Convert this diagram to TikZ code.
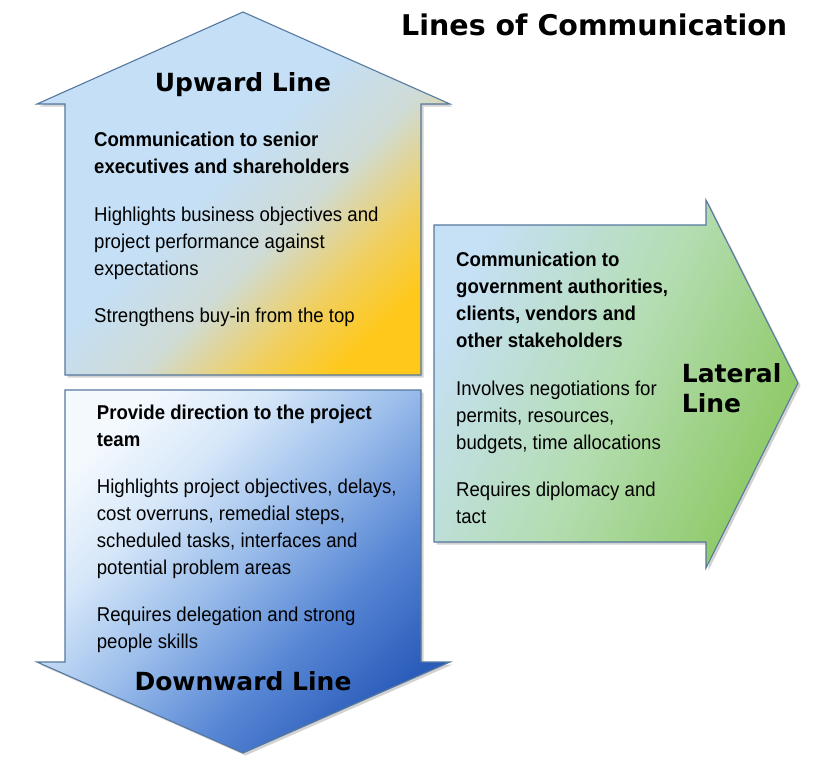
\documentclass[tikz,border=0pt]{standalone}
\usepackage{fontspec}
\setmainfont{Liberation Sans}
\newfontfamily\bodyfont[FakeStretch=0.93]{Liberation Sans}
\newfontfamily\headfont{DejaVu Sans}
\usetikzlibrary{shadows}
\definecolor{upTop}{HTML}{C4DFF6}
\definecolor{upMid}{HTML}{CFDBD6}
\definecolor{upWarm}{HTML}{F0CF5E}
\definecolor{upBot}{HTML}{FFC81A}
\definecolor{dnTop}{HTML}{F4F9FE}
\definecolor{dnLight}{HTML}{D6E7F9}
\definecolor{dnMid}{HTML}{9DBFEB}
\definecolor{dnDeep}{HTML}{5786D4}
\definecolor{dnBot}{HTML}{2A5CBA}
\definecolor{ltTop}{HTML}{C6E0F6}
\definecolor{ltMid}{HTML}{B4DDB2}
\definecolor{ltBot}{HTML}{8CC862}
\definecolor{edgeBlue}{HTML}{56789E}
\pgfdeclareverticalshading{upfade}{100bp}{color(0bp)=(upBot);
  color(25bp)=(upBot); color(33bp)=(upWarm); color(43bp)=(upMid);
  color(54bp)=(upTop); color(100bp)=(upTop)}
\pgfdeclareverticalshading{dnfade}{100bp}{color(0bp)=(dnBot);
  color(25bp)=(dnBot); color(38bp)=(dnDeep); color(52bp)=(dnMid);
  color(64bp)=(dnLight); color(75bp)=(dnTop); color(100bp)=(dnTop)}
\pgfdeclareverticalshading{ltfade}{100bp}{color(0bp)=(ltBot);
  color(25bp)=(ltBot); color(50bp)=(ltMid); color(75bp)=(ltTop);
  color(100bp)=(ltTop)}
\tikzset{
  arrowbox/.style = {draw=edgeBlue, line width=1.1pt, line join=miter,
                     drop shadow={opacity=0.35, shadow xshift=2.5pt,
                                  shadow yshift=-2.5pt}},
  txt/.style      = {anchor=base west, align=left, inner sep=0pt,
                     font=\bodyfont\fontsize{20}{27}\selectfont},
  lead/.style     = {txt, font=\bodyfont\bfseries\fontsize{20}{27}\selectfont},
  head/.style     = {inner sep=0pt, align=left,
                     font=\headfont\bfseries\fontsize{25}{30}\selectfont},
}

\begin{document}
\begin{tikzpicture}[x=1pt, y=-1pt]
  \useasboundingbox (0,0) rectangle (840,766);
  \fill[white] (0,0) rectangle (840,766);

  % --- the three arrows ---
  \shade[arrowbox, shading=upfade, shading angle=45]
    (243,12) -- (450,104) -- (421,104) -- (421,375) -- (65,375)
    -- (65,104) -- (37,104) -- cycle;
  \shade[arrowbox, shading=dnfade, shading angle=45]
    (65,390) -- (421,390) -- (421,662) -- (450,662) -- (243,753)
    -- (37,662) -- (65,662) -- cycle;
  \shade[arrowbox, shading=ltfade, shading angle=65]
    (434,225) -- (706,225) -- (706,200) -- (798,383) -- (706,568)
    -- (706,542) -- (434,542) -- cycle;

  % --- title ---
  \node[anchor=base west, inner sep=0pt,
        font=\headfont\bfseries\fontsize{28.5}{32}\selectfont]
       (title) at (401,35) {Lines of Communication};

  % --- upward line (anchors sit on the last baseline) ---
  \node[head, anchor=base] (upHead) at (243,91.7) {Upward Line};
  \node[lead] (upLead) at (94,173)
       {Communication to senior\\executives and shareholders};
  \node[txt] (upBody) at (94,275)
       {Highlights business objectives and\\project performance against\\expectations};
  \node[txt] (upNote) at (94,322.7) {Strengthens buy-in from the top};

  % --- downward line ---
  \node[lead] (dnLead) at (96.7,446)
       {Provide direction to the project\\team};
  \node[txt] (dnBody) at (96.7,574)
       {Highlights project objectives, delays,\\cost overruns, remedial steps,\\scheduled tasks, interfaces and\\potential problem areas};
  \node[txt] (dnNote) at (96.7,648)
       {Requires delegation and strong\\people skills};
  \node[head, anchor=base] (dnHead) at (243,690.7) {Downward Line};

  % --- lateral line ---
  \node[lead] (ltLead) at (456,347)
       {Communication to\\government authorities,\\clients, vendors and\\other stakeholders};
  \node[txt] (ltBody) at (456,449)
       {Involves negotiations for\\permits, resources,\\budgets, time allocations};
  \node[txt] (ltNote) at (456,523) {Requires diplomacy and\\tact};
  \node[head, anchor=base west] (ltHead) at (681.7,412.7) {Lateral\\Line};
\end{tikzpicture}
\end{document}
